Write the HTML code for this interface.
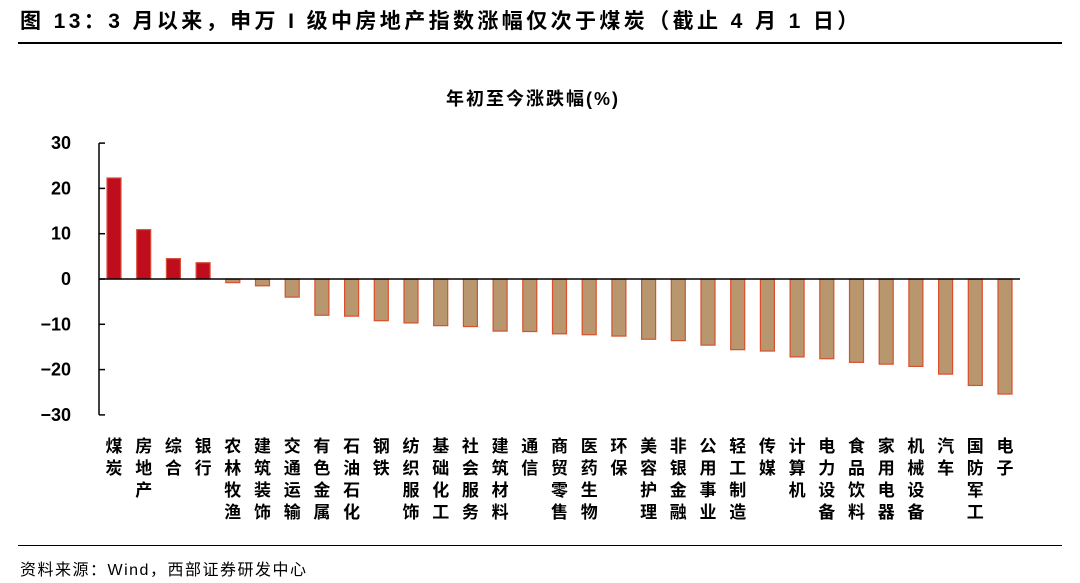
<!DOCTYPE html>
<html><head><meta charset="utf-8"><style>
body{margin:0;background:#fff;width:1080px;height:583px;overflow:hidden;font-family:"Liberation Sans","Noto Sans CJK SC",sans-serif;}
.t{position:absolute;white-space:nowrap;color:#000}
</style></head><body>
<div class="t" style="left:20px;top:5px;font-size:21px;letter-spacing:3.4px;font-weight:bold;">图 13：3 月以来，申万 I 级中房地产指数涨幅仅次于煤炭（截止 4 月 1 日）</div>
<div style="position:absolute;left:18px;top:42px;width:1044px;height:2px;background:#000"></div>
<div class="t" style="left:446px;top:85px;font-size:18px;font-weight:bold;letter-spacing:2px;">年初至今涨跌幅(%)</div>
<svg id="c" width="1080" height="583" style="position:absolute;left:0;top:0"></svg>
<div style="position:absolute;left:18px;top:545px;width:1044px;height:1px;background:#000"></div>
<div class="t" style="left:20px;top:556px;font-size:16px;letter-spacing:1.5px;">资料来源：Wind，西部证券研发中心</div>
<script>
const categories=["煤炭","房地产","综合","银行","农林牧渔","建筑装饰","交通运输","有色金属","石油石化","钢铁","纺织服饰","基础化工","社会服务","建筑材料","通信","商贸零售","医药生物","环保","美容护理","非银金融","公用事业","轻工制造","传媒","计算机","电力设备","食品饮料","家用电器","机械设备","汽车","国防军工","电子"];
const values=[22.3,10.9,4.5,3.6,-0.8,-1.5,-4.0,-8.0,-8.2,-9.2,-9.7,-10.3,-10.5,-11.5,-11.6,-12.1,-12.3,-12.6,-13.3,-13.6,-14.6,-15.6,-15.9,-17.2,-17.6,-18.4,-18.8,-19.3,-21.0,-23.5,-25.4];
const ticks=[30,20,10,0,-10,-20,-30];
const NS="http://www.w3.org/2000/svg",svg=document.getElementById('c');
const x0=99,step=29.7,bw=14;
const y=v=>279-v*4.53;
const xc=i=>x0+15+i*step;
function mk(t,a){const e=document.createElementNS(NS,t);for(const k in a)e.setAttribute(k,a[k]);svg.appendChild(e);return e;}
values.forEach((v,i)=>{
const r=mk('rect',{x:xc(i)-bw/2,y:Math.min(y(v),y(0)),width:bw,height:Math.abs(y(v)-y(0)),fill:v>=0?'#c00d1e':'#b8966e',stroke:v>=0?'#d9503a':'#d9502c','stroke-width':1.2});


const tx=mk('text',{x:xc(i),y:452,'font-size':17,'font-weight':'bold','text-anchor':'middle','font-family':'"Noto Sans CJK SC",sans-serif'});


[...categories[i]].forEach((ch,k)=>{const s=document.createElementNS(NS,'tspan');s.setAttribute('x',xc(i));s.setAttribute('y',452+k*22);s.textContent=ch;tx.appendChild(s);});
});
const ax=mk('line',{x1:x0,y1:y(30),x2:x0,y2:y(-30),stroke:'#000','stroke-width':1.5});


const zl=mk('line',{x1:x0,y1:y(0),x2:1020,y2:y(0),stroke:'#000','stroke-width':1.5});


ticks.forEach(t=>{
const l=mk('line',{x1:x0,y1:y(t),x2:x0+6,y2:y(t),stroke:'#000','stroke-width':1.5});


const tt=mk('text',{x:71,y:y(t)+6,'font-size':18,'font-weight':'bold','text-anchor':'end'});


tt.textContent=t<0?'\u2212'+(-t):t;
});
</script>
</body></html>
